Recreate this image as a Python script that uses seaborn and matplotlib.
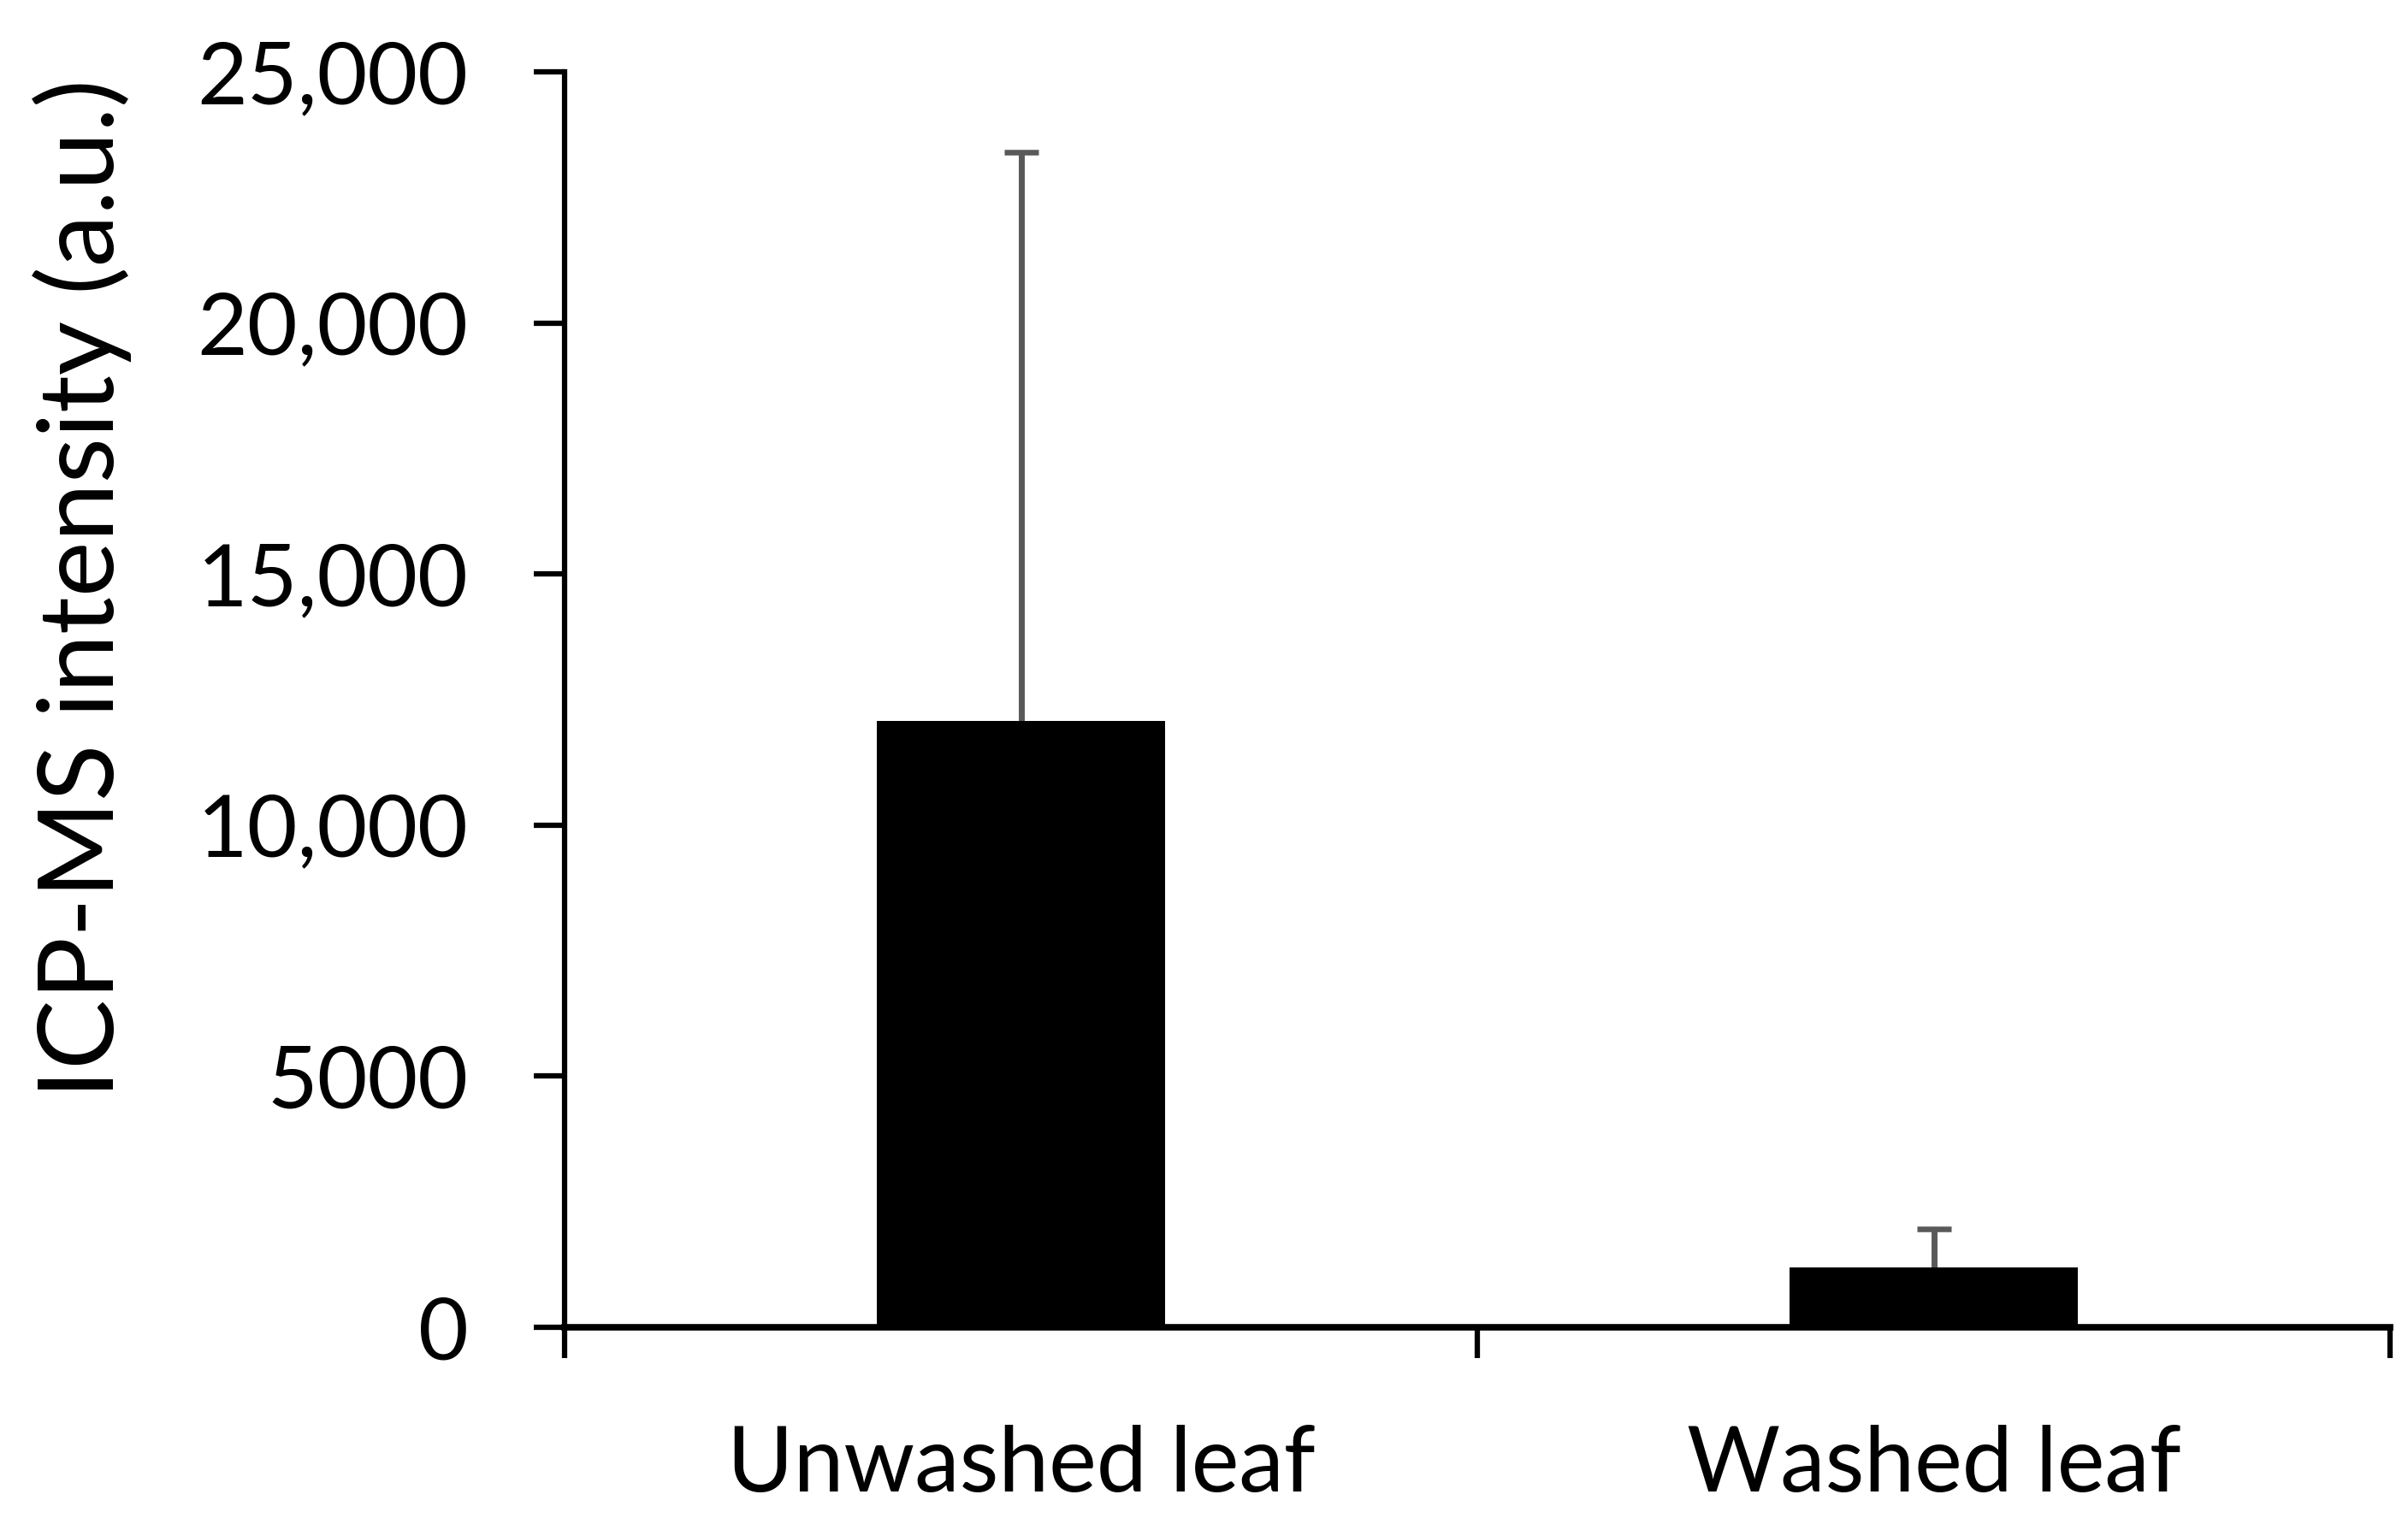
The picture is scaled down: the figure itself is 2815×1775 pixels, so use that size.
import matplotlib
matplotlib.use("Agg")
import matplotlib.pyplot as plt
import seaborn as sns
import numpy as np

# ICP-MS intensity of unwashed vs washed leaves (mean, upper error)
samples = ["Unwashed leaf", "Washed leaf"]
intensity = [12070, 1190]
intensity_err = [11330, 770]
ytick_values = [0, 5000, 10000, 15000, 20000, 25000]
ytick_labels = ["0", "5000", "10,000", "15,000", "20,000", "25,000"]

sns.set_theme(style="white")
plt.rcParams["font.family"] = ["Lato", "DejaVu Sans"]
plt.rcParams["text.color"] = "black"
plt.rcParams["xtick.color"] = "black"
plt.rcParams["ytick.color"] = "black"

fig = plt.figure(figsize=(28.15, 17.75), dpi=100)
ax = fig.add_axes([660 / 2815, 1 - 1552 / 1775, (2794 - 660) / 2815, (1552 - 84) / 1775])

sns.barplot(x=samples, y=intensity, color="black", width=0.316,
            saturation=1, ax=ax, errorbar=None, zorder=2)
for p in ax.patches:
    p.set_edgecolor("none")

# upper-only error bars, Excel style
eb = ax.errorbar(range(len(samples)), intensity, yerr=[[0] * len(samples), intensity_err],
                 fmt="none", ecolor="#595959", elinewidth=5, capsize=14.4, capthick=4.7,
                 zorder=1)
eb[1][0].set_visible(False)  # no cap at the bottom end

ax.set_xlim(-0.5, 1.5)
ax.set_ylim(0, 25000)
ax.set_yticks(ytick_values)
ax.set_yticklabels(ytick_labels)

# tick marks between categories, labels at category centres
ax.set_xticks([-0.5, 0.5, 1.5])
ax.set_xticklabels(["", "", ""])
ax.set_xticks([0, 1], minor=True)
ax.set_xticklabels(samples, minor=True)

for s in ["top", "right"]:
    ax.spines[s].set_visible(False)
ax.spines["left"].set_linewidth(4.5)
ax.spines["bottom"].set_linewidth(5.5)
ax.spines["left"].set_color("black")
ax.spines["bottom"].set_color("black")

ax.tick_params(axis="y", which="major", direction="out", length=26, width=4.5,
               color="black", labelcolor="black", labelsize=73, pad=55, left=True)
ax.tick_params(axis="x", which="major", direction="out", length=26, width=4.5,
               color="black", bottom=True)
ax.tick_params(axis="x", which="minor", length=0, labelsize=76, pad=82,
               labelcolor="black")
ax.set_xlabel("")
ax.set_ylabel("")

fig.text(38 / 2815, 1 - 688 / 1775, "ICP-MS intensity (a.u.)", rotation=90,
         ha="left", va="center", fontsize=88, color="black")

fig.savefig("out.png", dpi=100, facecolor="white")
